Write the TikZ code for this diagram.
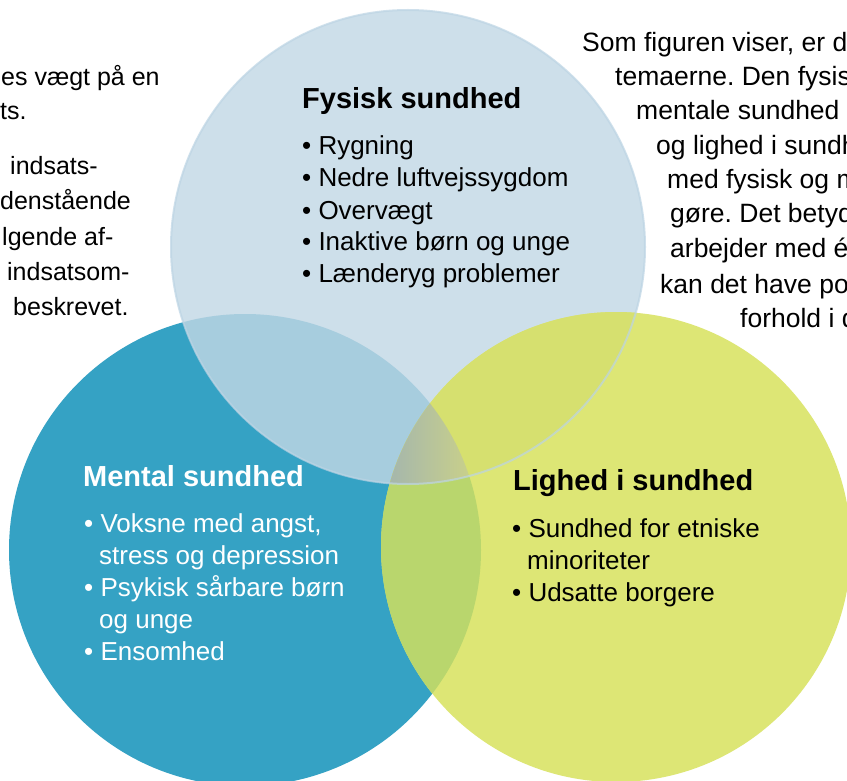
\documentclass[tikz,border=0pt]{standalone}
\usepackage{fontspec}
\setmainfont{Liberation Sans}
\usetikzlibrary{shadings}
\frenchspacing
\definecolor{cTop}{HTML}{CDDFEA}
\definecolor{cTopEdge}{HTML}{BCD4E4}
\definecolor{cMen}{HTML}{35A2C4}
\definecolor{cLig}{HTML}{DDE675}
\definecolor{cTM}{HTML}{A7CDDE}
\definecolor{cML}{HTML}{B9D66D}
\definecolor{cTL}{HTML}{D6E06F}
\definecolor{cTriL}{HTML}{A3B5AE}
\definecolor{cTriR}{HTML}{CDD386}
\tikzset{
  body/.style={anchor=base west, inner sep=0pt, font=\fontsize{26}{32}\selectfont},
  side/.style={anchor=base west, inner sep=0pt, font=\fontsize{25}{32}\selectfont},
  rside/.style={anchor=base west, inner sep=0pt, font=\fontsize{26.5}{32}\selectfont},
  head/.style={anchor=base west, inner sep=0pt, font=\fontsize{29}{32}\selectfont\bfseries},
}
\begin{document}
\begin{tikzpicture}[x=1pt,y=-1pt]
\useasboundingbox (0,0) rectangle (847,781);
\fill[white] (0,0) rectangle (847,781);
% circles
\fill[cMen] (245,550) circle[radius=236];
\fill[cTop] (408,247) circle[radius=237];
\fill[cLig] (616,547) circle[radius=235];
\begin{scope}
  \clip (408,247) circle[radius=237];
  \fill[cTM] (245,550) circle[radius=236];
\end{scope}
\begin{scope}
  \clip (245,550) circle[radius=236];
  \fill[cML] (616,547) circle[radius=235];
\end{scope}
\begin{scope}
  \clip (408,247) circle[radius=237];
  \fill[cTL] (616,547) circle[radius=235];
\end{scope}
\begin{scope}
  \clip (408,247) circle[radius=237];
  \clip (245,550) circle[radius=236];
  \clip (616,547) circle[radius=235];
  \shade[left color=cTriL, right color=cTriR] (385,390) rectangle (480,490);
\end{scope}
\draw[cTopEdge, line width=2pt, opacity=0.7] (408,247) circle[radius=237];
% left text
\node[side] (l1) at (1,86) {es vægt på en};
\node[side] (l2) at (0,120) {ts.};
\node[side] (l3) at (10,175) {indsats-};
\node[side] (l4) at (0,210) {denstående};
\node[side] (l5) at (2,245) {lgende af-};
\node[side] (l6) at (7,280) {indsatsom-};
\node[side] (l7) at (13,315) {beskrevet.};
% right text
\node[rside] (r1) at (582,52) {Som figuren viser, er d};
\node[rside] (r2) at (615,86) {temaerne. Den fysis};
\node[rside] (r3) at (636,120) {mentale sundhed};
\node[rside] (r4) at (656,155) {og lighed i sundh};
\node[rside] (r5) at (667,189) {med fysisk og m};
\node[rside] (r6) at (670,223) {gøre. Det betyd};
\node[rside] (r7) at (670,258) {arbejder med é};
\node[rside] (r8) at (660,293) {kan det have po};
\node[rside] (r9) at (740,327) {forhold i d};
% Fysisk
\node[head] (fh) at (302,109) {Fysisk sundhed};
\node[body] (f1) at (302,155) {• Rygning};
\node[body] (f2) at (302,187) {• Nedre luftvejssygdom};
\node[body] (f3) at (302,219) {• Overvægt};
\node[body] (f4) at (302,251) {• Inaktive børn og unge};
\node[body] (f5) at (302,283) {• Lænderyg problemer};
% Mental
\node[head, text=white] (mh) at (83,486) {Mental sundhed};
\node[body, text=white] (m1) at (84,532) {• Voksne med angst,};
\node[body, text=white] (m2) at (99,564) {stress og depression};
\node[body, text=white] (m3) at (84,596) {• Psykisk sårbare børn};
\node[body, text=white] (m4) at (99,628) {og unge};
\node[body, text=white] (m5) at (84,660) {• Ensomhed};
% Lighed
\node[head] (gh) at (513,490) {Lighed i sundhed};
\node[body] (g1) at (512,537) {• Sundhed for etniske};
\node[body] (g2) at (527,569) {minoriteter};
\node[body] (g3) at (512,601) {• Udsatte borgere};
\end{tikzpicture}
\end{document}
